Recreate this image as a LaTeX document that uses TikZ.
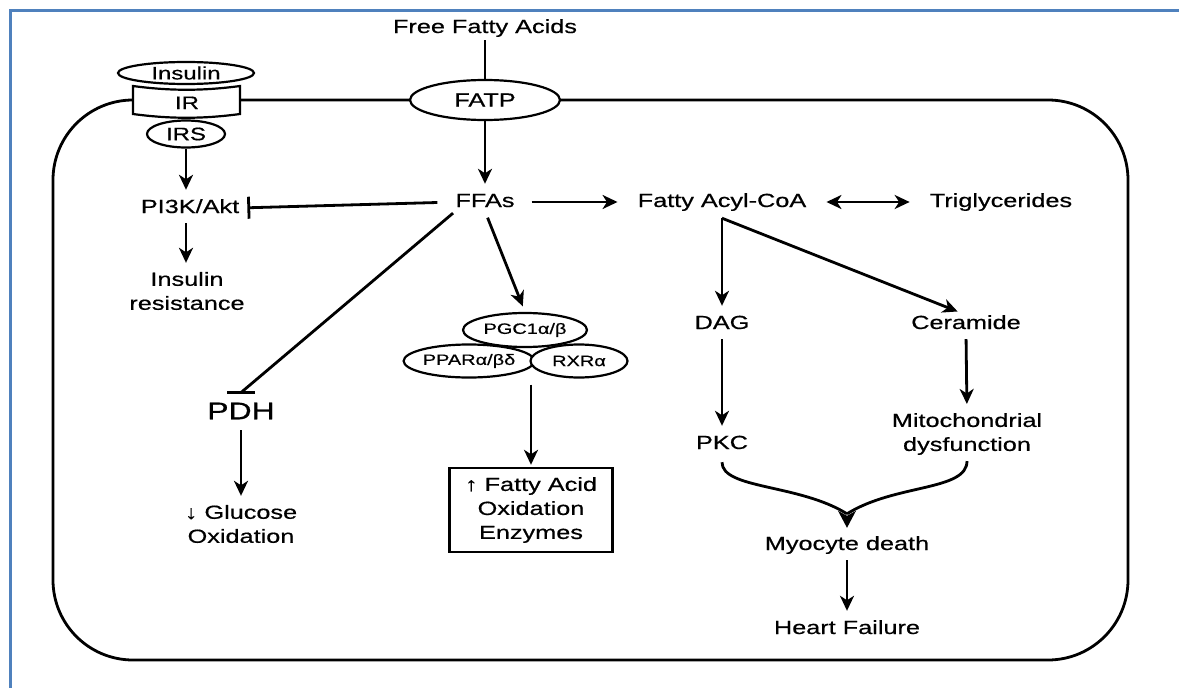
\documentclass[tikz,border=0pt]{standalone}
\usepackage{fontspec}
\setmainfont{Liberation Sans}[FakeStretch=1.33,FakeBold=0.6]
\usetikzlibrary{arrows.meta,shapes.geometric,calc}
\definecolor{frameblue}{RGB}{79,129,189}
\begin{document}
\begin{tikzpicture}[x=1pt,y=-1pt,
  lbl/.style={inner sep=0pt, font=\fontsize{19}{24}\selectfont, text height=14pt, text depth=4pt},
  ml/.style={inner sep=0pt, font=\fontsize{19}{24}\selectfont, align=center},
  arr/.style={-{Stealth[length=15pt,width=14pt,inset=4.5pt]}, line width=2.8pt, shorten <=6pt, shorten >=9pt},
  dbl/.style={{Stealth[length=15pt,width=14pt,inset=4.5pt]}-{Stealth[length=15pt,width=14pt,inset=4.5pt]}, line width=2.8pt},
  inh/.style={line width=2.8pt},
  oval/.style={ellipse, draw, fill=white, line width=2.2pt, inner sep=0pt},
  smalloval/.style={oval, font=\fontsize{15}{18}\selectfont},
  recoval/.style={oval, font=\fontsize{18}{22}\selectfont},
  mem/.style={line width=2.8pt}]
\useasboundingbox (0,0) rectangle (1179,688);
\fill[white] (0,0) rectangle (1179,688);
\draw[frameblue, line width=3pt] (10,690) -- (10,10) -- (1181,10);
% cell membrane
\draw[mem, rounded corners=80pt] (53,100) rectangle (1128,660);
% receptor
\draw[line width=2.2pt, fill=white] (133,86) .. controls (170,91) and (203,91) .. (240,86) -- (240,114) .. controls (203,119) and (170,119) .. (133,114) -- cycle;
\node[lbl, font=\fontsize{18}{22}\selectfont] (ir) at (187,104) {IR};
\node[recoval, minimum width=136pt, minimum height=22pt] (ins) at (186,73) {Insulin};
\node[recoval, minimum width=78pt, minimum height=27pt] (irs) at (186,134) {IRS};
\node[recoval, font=\fontsize{19}{22}\selectfont, minimum width=150pt, minimum height=40pt] (fatp) at (485,100) {FATP};
% labels
\node[lbl] (free) at (485,28) {Free Fatty Acids};
\node[lbl] (ffa) at (485,202) {FFAs};
\node[lbl] (acyl) at (722,202) {Fatty Acyl-CoA};
\node[lbl] (tg) at (1001,202) {Triglycerides};
\node[lbl] (dag) at (722,324) {DAG};
\node[lbl] (cer) at (966,324) {Ceramide};
\node[lbl] (pkc) at (722,444) {PKC};
\node[ml] (mito) at (967,434) {Mitochondrial\\dysfunction};
\node[lbl] (myo) at (847,545) {Myocyte death};
\node[lbl] (hf) at (847,629) {Heart Failure};
\node[lbl] (pi3k) at (190,208) {PI3K/Akt};
\node[ml] (insres) at (187,291) {Insulin\\resistance};
\node[lbl, font=\fontsize{24}{28}\selectfont, text height=17.5pt, text depth=5pt] (pdh) at (241,413) {PDH};
\node[ml] (gluc) at (241,524) {↓ Glucose\\Oxidation};
% nuclear receptor complex
\node[smalloval, minimum width=125pt, minimum height=33pt] (ppar) at (469,361) {PPARα/βδ};
\node[smalloval, minimum width=97pt, minimum height=33pt] (rxr) at (579,361) {RXRα};
\node[smalloval, minimum width=124pt, minimum height=34pt] (pgc) at (525,330) {PGC1α/β};
\node[draw, line width=2.4pt, minimum width=163pt, minimum height=84pt, align=center, inner sep=0pt, font=\fontsize{19}{24}\selectfont] (fao) at (531,510) {↑ Fatty Acid\\Oxidation\\Enzymes};
% connectors
\draw[line width=2.8pt, shorten <=3pt] (free.south) -- (fatp.north);
\draw[arr, shorten <=0pt] (fatp.south) -- (ffa.north);
\draw[arr, shorten <=17pt, shorten >=20pt] (ffa.east) -- (acyl.west);
\draw[dbl, shorten <=20pt, shorten >=20pt] (acyl.east) -- (tg.west);
\coordinate (split) at ([yshift=-7pt]acyl.south);
\draw[arr, shorten <=0pt] (split) -- (dag.north);
\draw[arr, shorten <=0pt] (split) -- (cer.north);
\draw[arr] (dag.south) -- (pkc.north);
\draw[arr] (cer.south) -- (mito.north);
% converging curves into myocyte death
\coordinate (mtip) at ([yshift=8pt]myo.north);
\coordinate (merge) at ([yshift=22pt]myo.north);
\draw[line width=2.8pt, shorten <=6pt] (mito.south) .. controls +(0,36) and +(48,-30) .. (merge);
\draw[line width=2.8pt, shorten <=9pt] (pkc.south) .. controls +(0,36) and +(-48,-30) .. (merge);
\fill (mtip) -- ++(-9,-17) -- ++(9,5) -- ++(9,-5) -- cycle;
\draw[arr] (myo.south) -- (hf.north);
\draw[arr, shorten <=0pt] (irs.south) -- (irs.south |- pi3k.north);
\draw[inh, -{Bar[width=22pt,line width=2.8pt]}, shorten <=18pt, shorten >=8pt] (ffa.west) -- (pi3k.east);
\draw[arr] (irs.south |- pi3k.south) -- (irs.south |- insres.north);
\coordinate (pdhbar) at ([yshift=9pt]pdh.north);
\draw[inh, shorten <=3pt] (ffa.south west) -- (pdhbar);
\draw[inh] ([xshift=-14pt]pdhbar) -- ([xshift=14pt]pdhbar);
\draw[arr] (pdh.south) -- (gluc.north);
\draw[arr, shorten <=7pt, shorten >=6pt] (ffa.south) -- (pgc.north);
\draw[arr, shorten <=6pt, shorten >=2pt] (fao.north |- rxr.south) -- (fao.north);
\end{tikzpicture}
\end{document}
